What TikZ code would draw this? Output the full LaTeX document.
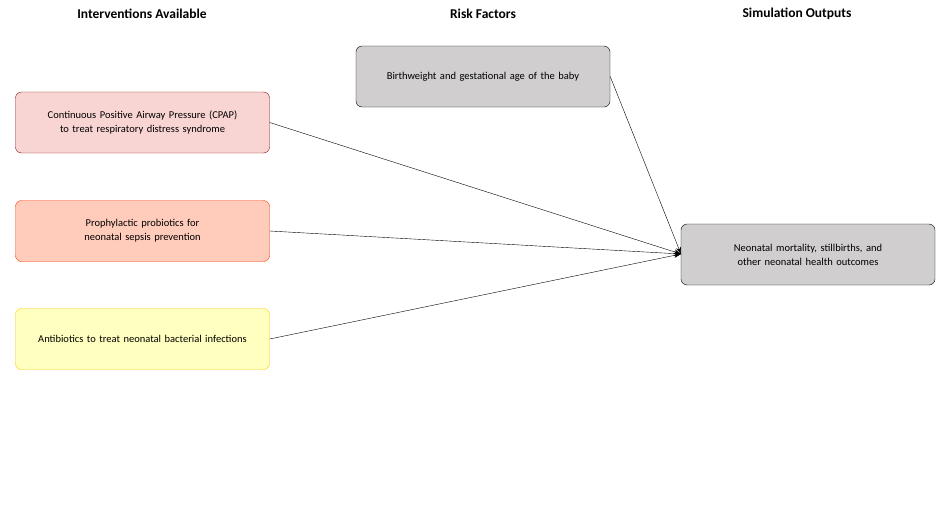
\documentclass[tikz,border=0pt]{standalone}
\usepackage{fontspec}
\setmainfont{Carlito}
\usetikzlibrary{arrows.meta}
\definecolor{cpapf}{HTML}{F8D5D3}\definecolor{cpapd}{HTML}{8B1010}
\definecolor{probf}{HTML}{FFCCBB}\definecolor{probd}{HTML}{FF3300}
\definecolor{antif}{HTML}{FFFFC0}\definecolor{antid}{HTML}{FFC800}
\definecolor{grayf}{HTML}{D0CECE}
\begin{document}
\begin{tikzpicture}[x=1pt,y=-1pt,
 box/.style={rounded corners=6pt,minimum width=254pt,minimum height=61pt,text width=220pt,align=center,font=\fontsize{10.5}{14}\selectfont},
 hdr/.style={font=\bfseries\fontsize{13.5}{16}\selectfont},
 arr/.style={-{Stealth[length=7pt,width=5pt]}}]
\useasboundingbox (0,0) rectangle (940,509);
\node[hdr] (h1) at (142,14) {Interventions Available};
\node[hdr] (h2) at (483,14) {Risk Factors};
\node[hdr] (h3) at (797,14) {Simulation Outputs};
\node[box,draw=cpapd,fill=cpapf] (cpap) at (142.5,122.5) {Continuous Positive Airway Pressure (CPAP) to treat respiratory distress syndrome};
\node[box,draw=probd,fill=probf] (prob) at (142.5,231) {Prophylactic probiotics for neonatal sepsis prevention};
\node[box,draw=antid,fill=antif] (anti) at (142.5,339) {Antibiotics to treat neonatal bacterial infections};
\node[box,draw=black,fill=grayf] (bw) at (483,76.5) {Birthweight and gestational age of the baby};
\node[box,draw=black,fill=grayf] (out) at (808,254.5) {Neonatal mortality, stillbirths, and other neonatal health outcomes};
\coordinate (t) at (681,254);
\draw[arr] (cpap.east) -- (t);
\draw[arr] (prob.east) -- (t);
\draw[arr] (anti.east) -- (t);
\draw[arr] (bw.east) -- (t);
\end{tikzpicture}
\end{document}
